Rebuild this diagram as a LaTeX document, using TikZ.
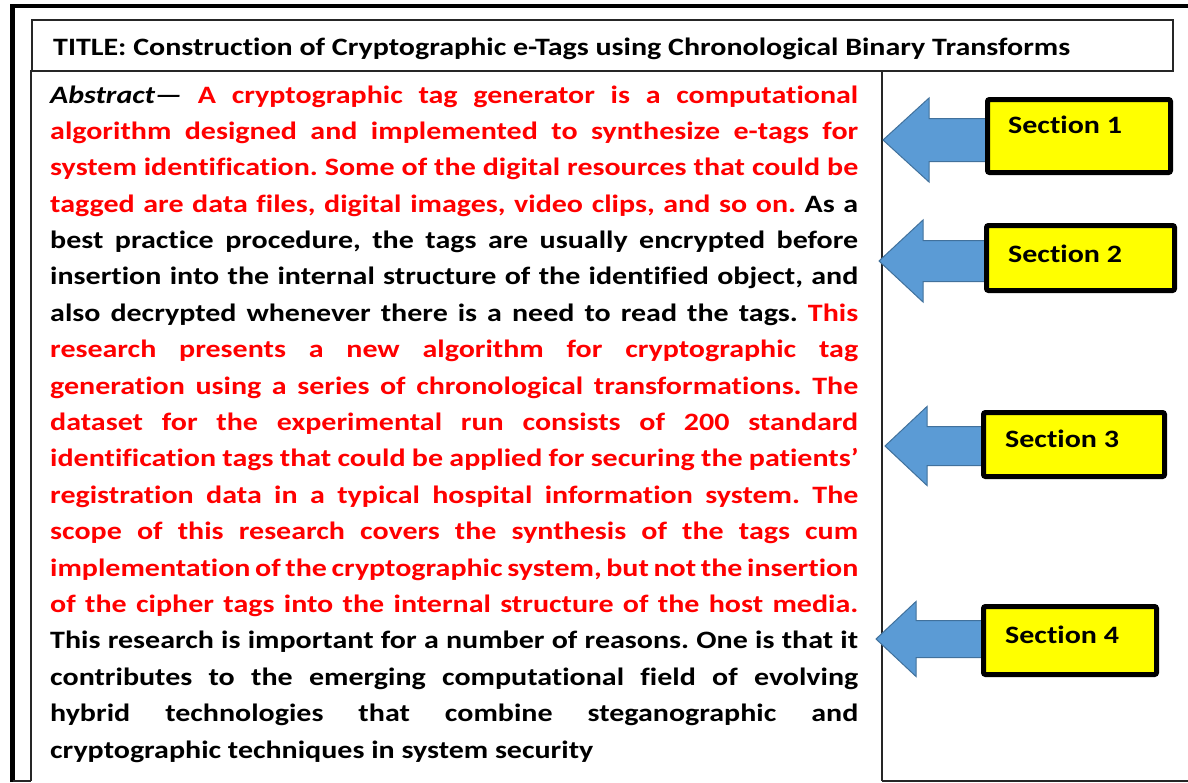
\documentclass[tikz,border=0pt]{standalone}
\usepackage{fontspec}
\setmainfont{Carlito}[FakeStretch=1.2, Ligatures=NoCommon]
\usepackage{xcolor}
\definecolor{arrowblue}{HTML}{5B9BD5}
\definecolor{arrowedge}{HTML}{41719C}
\definecolor{textred}{HTML}{FF0000}
\definecolor{secyellow}{HTML}{FFFF00}

% one justified line of the abstract
\newcommand\jline[1]{\hbox to 808pt{#1}}
% block arrow pointing left: tip, head length, head half-height, shaft half-height, shaft length
\newcommand\blockarrow[5]{%
  \draw[blockarrow] (#1) -- ++(#2,-#3) -- ++(0,{#3-#4}) -- ++(#5,0)
    -- ++(0,{2*#4}) -- ++(-#5,0) -- ++(0,{#3-#4}) -- cycle;}

\tikzset{
  frameline/.style={line width=4.5pt, black},
  thinbox/.style={draw=black!85, line width=1.3pt},
  blockarrow/.style={fill=arrowblue, draw=arrowedge, line width=1pt, line join=miter},
  secbox/.style={draw=black, line width=5pt, fill=secyellow, rounded corners=2pt, inner sep=0pt},
  seclabel/.style={anchor=base west, inner sep=0pt, font=\bfseries\fontsize{25}{30}\selectfont},
}

\begin{document}
\frenchspacing
\begin{tikzpicture}[x=1pt, y=-1pt]
\useasboundingbox (0,0) rectangle (1188,782);

% outer frame (left and top edges)
\draw[frameline] (12.5,782) -- (12.5,6) -- (1188,6);

% title box
\draw[thinbox] (32,20) rectangle (1173,71);
\node[anchor=base west, inner sep=0pt, font=\bfseries\fontsize{25}{30}\selectfont] (title)
  at (53,55) {TITLE: Construction of Cryptographic e-Tags using Chronological Binary Transforms};

% abstract column and side column rules
\draw[thinbox] (31,781) -- (31,71) -- (882,71) -- (882,781);
\draw[thinbox] (12.5,781) -- (31,781);
\draw[thinbox] (882,781) -- (1188,781);

\node[anchor=base west, inner sep=0pt, font=\bfseries\fontsize{25}{36.39}\selectfont] (abstract) at (50,103) {%
\vtop{\hsize=808pt \baselineskip=36.39pt
\jline{\textit{Abstract—} \color{textred}A cryptographic tag generator is a computational}
\jline{\color{textred}algorithm designed and implemented to synthesize e-tags for}
\jline{\color{textred}system identification. Some of the digital resources that could be}
\jline{{\color{textred}tagged are data files, digital images, video clips, and so on.} As a}
\jline{best practice procedure, the tags are usually encrypted before}
\jline{insertion into the internal structure of the identified object, and}
\jline{also decrypted whenever there is a need to read the tags. {\color{textred}This}}
\jline{\color{textred}research presents a new algorithm for cryptographic tag}
\jline{\color{textred}generation using a series of chronological transformations. The}
\jline{\color{textred}dataset for the experimental run consists of 200 standard}
\jline{\color{textred}identification tags that could be applied for securing the patients’}
\jline{\color{textred}registration data in a typical hospital information system. The}
\jline{\color{textred}scope of this research covers the synthesis of the tags cum}
\jline{\color{textred}implementation of the cryptographic system, but not the insertion}
\jline{\color{textred}of the cipher tags into the internal structure of the host media.}
\jline{This research is important for a number of reasons. One is that it}
\jline{contributes to the emerging computational field of evolving}
\jline{hybrid technologies that combine steganographic and}
\hbox{cryptographic techniques in system security}}};

% arrow tips
\coordinate (tip1) at (883,140);
\coordinate (tip2) at (879,261);
\coordinate (tip3) at (885,446);
\coordinate (tip4) at (876,639);

\blockarrow{tip1}{46}{42}{21.5}{61}
\blockarrow{tip2}{44}{41}{20.5}{67}
\blockarrow{tip3}{42}{39.5}{19.5}{60}
\blockarrow{tip4}{40}{37.5}{18.5}{71}

% section boxes
\node[secbox, minimum width=183pt, minimum height=73pt] (box1) at (1079,136) {};
\node[secbox, minimum width=188pt, minimum height=65pt] (box2) at (1080.5,258) {};
\node[secbox, minimum width=181pt, minimum height=64pt] (box3) at (1074,444.5) {};
\node[secbox, minimum width=173pt, minimum height=68pt] (box4) at (1070,640.5) {};

\node[seclabel] (sec1) at (1008,133) {Section 1};
\node[seclabel] (sec2) at (1008,262) {Section 2};
\node[seclabel] (sec3) at (1005,447) {Section 3};
\node[seclabel] (sec4) at (1005,643) {Section 4};
\end{tikzpicture}
\end{document}
